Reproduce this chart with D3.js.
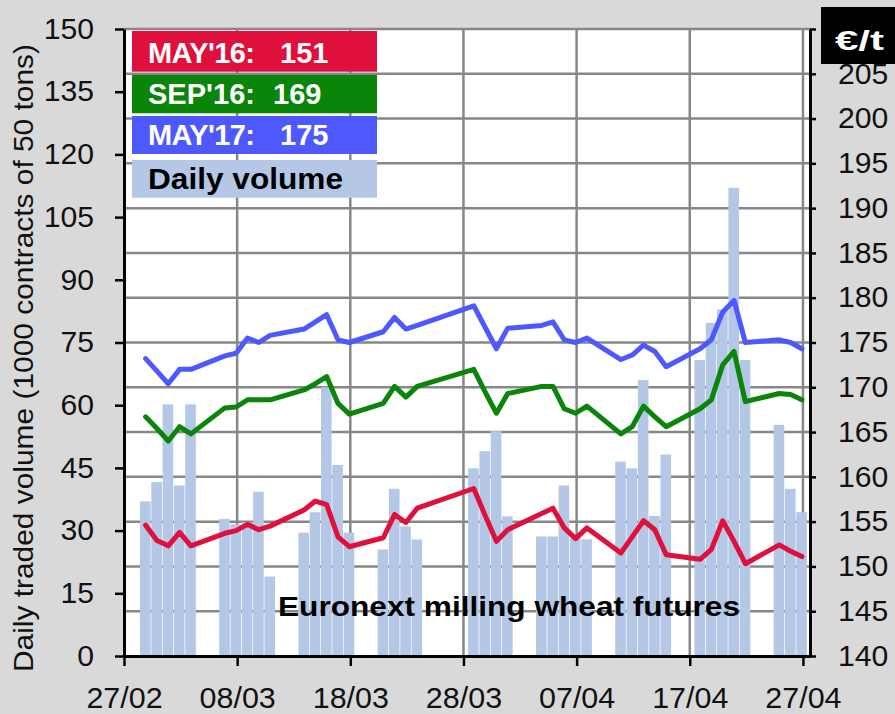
<!DOCTYPE html>
<html>
<head>
<meta charset="utf-8">
<script src="https://cdn.jsdelivr.net/npm/d3@7"></script>
<style>
  body { margin: 0; background: #d9d9d9; }
  svg { display: block; }
  text { font-family: "Liberation Sans", Arial, sans-serif; }
</style>
</head>
<body>
<div id="chart"></div>
<script>
// trading days (2016)
var dates = ["29/02","01/03","02/03","03/03","04/03",
  "07/03","08/03","09/03","10/03","11/03",
  "14/03","15/03","16/03","17/03","18/03",
  "21/03","22/03","23/03","24/03",
  "29/03","30/03","31/03","01/04",
  "04/04","05/04","06/04","07/04","08/04",
  "11/04","12/04","13/04","14/04","15/04",
  "18/04","19/04","20/04","21/04","22/04",
  "25/04","26/04","27/04"];

// daily traded volume, 1000 contracts
var volume = [37, 41.6, 60.2, 40.8, 60.2,
  32.8, 31.5, 32, 39.3, 19,
  29.5, 34.4, 64.3, 45.7, 29.5,
  25.5, 40, 31, 27.9,
  44.9, 49, 53.8, 33.4,
  28.6, 28.6, 40.8, 28.3, 27.9,
  46.5, 44.9, 66, 33.5, 48.2,
  70.8, 79.7, 82.9, 112, 70.8,
  55.3, 40, 34.4];

// settlement prices, EUR/t
var may16 = [154.6, 152.9, 152.3, 153.8, 152.3,
  153.7, 154.0, 154.7, 154.1, 154.5,
  156.3, 157.3, 156.9, 153.3, 152.2,
  153.2, 155.8, 154.9, 156.5,
  158.7, 155.7, 152.8, 154.1,
  155.9, 156.5, 154.3, 153.1, 154.3,
  151.5, 153.3, 155.1, 154.1, 151.3,
  150.8, 151.9, 155.1, 152.8, 150.3,
  152.4, 151.7, 151.1];

var sep16 = [166.7, 165.4, 164.0, 165.6, 164.8,
  167.7, 167.8, 168.6, 168.6, 168.6,
  169.7, 170.4, 171.2, 168.2, 167.0,
  168.2, 170.1, 168.9, 170.1,
  172.0, 169.5, 167.1, 169.3,
  170.1, 170.1, 167.6, 167.1, 167.9,
  164.8, 165.6, 167.9, 166.7, 165.6,
  167.6, 168.6, 172.5, 174.0, 168.4,
  169.3, 169.2, 168.6];

var may17 = [173.2, 171.8, 170.4, 172.0, 172.0,
  173.5, 173.8, 175.5, 175.0, 175.8,
  176.5, 177.3, 178.1, 175.3, 175.0,
  176.2, 177.8, 176.5, 176.9,
  179.1, 176.7, 174.3, 176.6,
  176.9, 177.3, 175.3, 175.0, 175.5,
  173.1, 173.6, 174.7, 174.0, 172.3,
  174.3, 175.3, 178.4, 179.7, 175.0,
  175.3, 175.0, 174.3];

var xTicks = ["27/02","08/03","18/03","28/03","07/04","17/04","27/04"];
var legendLabels = ["MAY'16:", "SEP'16:", "MAY'17:", "Daily volume"];
var legendValues = ["151", "169", "175", ""];
var legendColors = ["#e0103c", "#0a850a", "#4d59ff", "#b4c7e7"];

(function() {
  var W = 895, H = 714;
  var parse = d3.utcParse("%d/%m/%Y");
  var toDate = function(s) { return parse(s + "/2016"); };

  var pl = 124, pr = 810, pt = 29, pb = 656;
  var start = toDate("27/02"), end = toDate("27/04");
  var x = d3.scaleUtc()
      .domain([start, d3.utcHour.offset(end, 15)])
      .range([pl, pr]);
  var yL = d3.scaleLinear().domain([0, 150]).range([pb, pt]);
  var yR = d3.scaleLinear().domain([140, 210]).range([pb, pt]);
  var dayW = x(d3.utcDay.offset(start, 1)) - x(start);

  var rows = dates.map(function(s, i) {
    return { date: toDate(s), vol: volume[i], a: may16[i], b: sep16[i], c: may17[i] };
  });

  // widen glyphs a little, the source chart text is slightly stretched
  function stretch(sel, k) {
    sel.each(function() {
      var len = this.getComputedTextLength();
      d3.select(this).attr("textLength", len * k).attr("lengthAdjust", "spacingAndGlyphs");
    });
  }

  var svg = d3.select("#chart").append("svg")
      .attr("width", W)
      .attr("height", H);

  svg.append("rect").attr("width", W).attr("height", H).attr("fill", "#d9d9d9");
  svg.append("rect")
      .attr("x", pl).attr("y", pt)
      .attr("width", pr - pl).attr("height", pb - pt)
      .attr("fill", "#fff");

  // grid
  var grid = svg.append("g").attr("stroke", "#878787").attr("stroke-width", 2.5);
  grid.selectAll(".h").data(d3.range(145, 211, 5))
    .enter().append("line")
      .attr("x1", pl).attr("x2", pr)
      .attr("y1", function(d) { return yR(d); })
      .attr("y2", function(d) { return yR(d); });
  grid.selectAll(".v").data(xTicks.slice(1))
    .enter().append("line")
      .attr("x1", function(d) { return x(toDate(d)); })
      .attr("x2", function(d) { return x(toDate(d)); })
      .attr("y1", pt).attr("y2", pb);

  // volume bars
  svg.append("g").selectAll("rect")
      .data(rows)
    .enter().append("rect")
      .attr("x", function(d) { return x(d.date) - dayW / 2 - 1; })
      .attr("width", dayW - 0.7)
      .attr("y", function(d) { return yL(d.vol); })
      .attr("height", function(d) { return pb - yL(d.vol); })
      .attr("fill", "#b4c7e7");

  // price lines
  var series = [["a", legendColors[0]], ["b", legendColors[1]], ["c", legendColors[2]]];
  series.forEach(function(s) {
    var line = d3.line()
        .x(function(d) { return x(d.date) - 1; })
        .y(function(d) { return yR(d[s[0]]); });
    svg.append("path")
        .datum(rows)
        .attr("d", line)
        .attr("fill", "none")
        .attr("stroke", s[1])
        .attr("stroke-width", 5)
        .attr("stroke-linejoin", "round")
        .attr("stroke-linecap", "round");
  });

  svg.append("text")
      .attr("x", 278).attr("y", 616)
      .attr("font-size", 28).attr("font-weight", "bold")
      .attr("textLength", 462).attr("lengthAdjust", "spacingAndGlyphs")
      .text("Euronext milling wheat futures");

  // axes
  function styleAxis(g) {
    g.select(".domain").attr("stroke", "#000").attr("stroke-width", 3);
    g.selectAll(".tick line").attr("stroke", "#000").attr("stroke-width", 2.5);
    g.selectAll(".tick text").attr("font-size", 29).attr("fill", "#111")
        .attr("font-family", "Liberation Sans, Arial, sans-serif");
  }

  var axL = svg.append("g")
      .attr("transform", "translate(" + pl + ",0)")
      .call(d3.axisLeft(yL).tickValues(d3.range(0, 151, 15)).tickSize(9).tickSizeOuter(0).tickPadding(21))
      .call(styleAxis);
  stretch(axL.selectAll(".tick text"), 1.04);

  // the 210 label sits under the unit box in the source
  var axR = svg.append("g")
      .attr("transform", "translate(" + pr + ",0)")
      .call(d3.axisRight(yR).tickValues(d3.range(140, 211, 5)).tickSize(6).tickSizeOuter(0).tickPadding(22)
        .tickFormat(function(d) { return d < 210 ? d : ""; }))
      .call(styleAxis);
  stretch(axR.selectAll(".tick text").filter(function(d) { return d < 210; }), 1.04);

  var axB = svg.append("g")
      .attr("transform", "translate(0," + pb + ")")
      .call(d3.axisBottom(x).tickValues(xTicks.map(toDate)).tickFormat(d3.utcFormat("%d/%m"))
        .tickSize(10).tickSizeOuter(0).tickPadding(21))
      .call(styleAxis);
  stretch(axB.selectAll(".tick text"), 1.05);

  svg.append("text")
      .attr("transform", "translate(33,358) rotate(-90)")
      .attr("text-anchor", "middle")
      .attr("font-size", 28).attr("fill", "#111")
      .attr("textLength", 628).attr("lengthAdjust", "spacingAndGlyphs")
      .text("Daily traded volume (1000 contracts of 50 tons)");

  // legend
  var boxes = [[31, 71.7], [75, 113.3], [116, 154], [160, 197.7]];
  var leg = svg.append("g");
  legendLabels.forEach(function(lab, i) {
    leg.append("rect")
        .attr("x", 132).attr("y", boxes[i][0])
        .attr("width", 245).attr("height", boxes[i][1] - boxes[i][0])
        .attr("fill", legendColors[i]);
    var base = boxes[i][1] - 9;
    leg.append("text")
        .attr("x", 148).attr("y", base)
        .attr("font-size", 29).attr("font-weight", "bold")
        .attr("fill", i < 3 ? "#fff" : "#000")
        .attr("textLength", i < 3 ? 107 : 195)
        .attr("lengthAdjust", i < 3 ? "spacing" : "spacingAndGlyphs")
        .text(lab);
    if (legendValues[i]) {
      leg.append("text")
          .attr("x", i === 1 ? 273 : 280).attr("y", base)
          .attr("font-size", 29).attr("font-weight", "bold")
          .attr("fill", "#fff")
          .text(legendValues[i]);
    }
  });

  // unit box
  svg.append("rect")
      .attr("x", 821).attr("y", 7)
      .attr("width", W - 821).attr("height", 57)
      .attr("fill", "#000");
  svg.append("text")
      .attr("x", 835).attr("y", 50)
      .attr("font-size", 27).attr("font-weight", "bold")
      .attr("font-family", "Open Sans, Liberation Sans, sans-serif")
      .attr("fill", "#fff")
      .attr("textLength", 49).attr("lengthAdjust", "spacingAndGlyphs")
      .text("€/t");
})();
</script>
</body>
</html>
